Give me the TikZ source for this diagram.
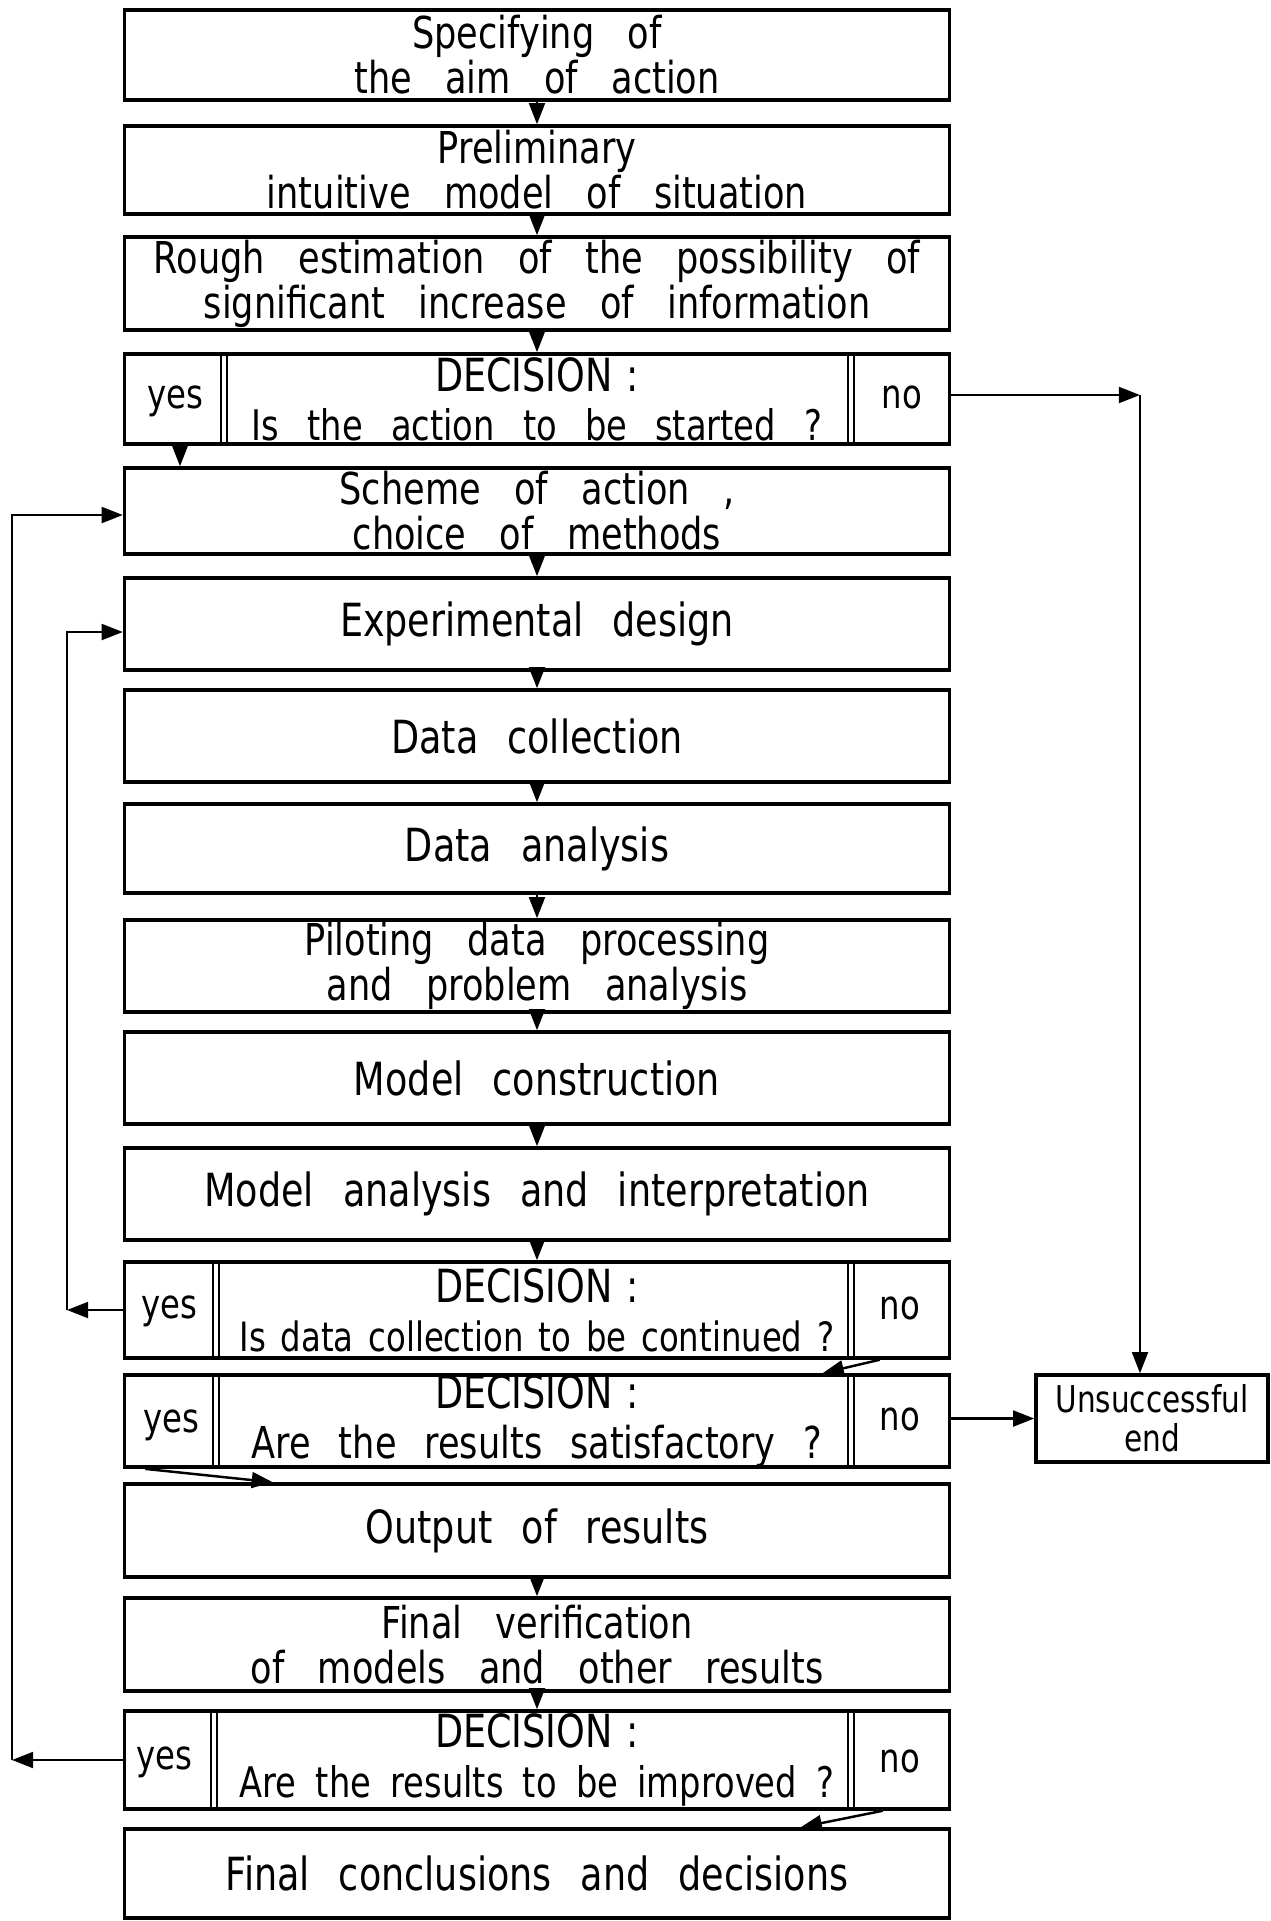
\documentclass[tikz,border=0pt]{standalone}
\usepackage{fontspec}
\setmainfont{DejaVu Sans}[FakeStretch=0.8,WordSpace=2.5]
\usetikzlibrary{arrows.meta}
\newcommand\boxfont{\fontsize{26}{22}\selectfont}
\newcommand\twofont{\fontsize{25}{25.5}\selectfont\lineskiplimit=-40pt\spaceskip=19pt\relax}

\begin{document}
\begin{tikzpicture}[x=0.02cm,y=-0.02cm,
    box/.style={draw,line width=2pt,minimum width=16.5cm,inner sep=0pt,align=center,font=\boxfont},
    twoline/.style={box,font=\twofont},
    lbl/.style={inner sep=0pt,font=\fontsize{23}{22}\selectfont},
    sep/.style={line width=1.4pt},
    arr/.style={line width=1.4pt,-{Triangle[length=12pt,width=9pt]}}]
    \useasboundingbox[fill=white] (0,0) rectangle (1271,1921);
    % main column
    \node[twoline,minimum height=1.8cm] (spec) at (537,55) {Specifying of\\the aim of action};
    \node[twoline,minimum height=1.76cm] (prelim) at (537,170) {Preliminary\\intuitive model of situation};
    \node[twoline,minimum height=1.86cm] (rough) at (537,283.5) {Rough estimation of the possibility of\\significant increase of information};
    \node[box,minimum height=1.8cm] (dec1) at (537,399) {DECISION\hspace{0.3em}:\\[6pt]{\fontsize{24}{22}\selectfont\spaceskip=16pt Is the action to be started ?}};
    \node[twoline,minimum height=1.72cm] (scheme) at (537,511) {Scheme of action ,\\choice of methods};
    \node[box,minimum height=1.84cm] (exp) at (537,624) {Experimental design};
    \node[box,minimum height=1.84cm] (datacoll) at (537,736) {Data collection};
    \node[box,minimum height=1.78cm] (dataanal) at (537,848.5) {Data analysis};
    \node[twoline,minimum height=1.84cm] (pilot) at (537,966) {Piloting data processing\\and problem analysis};
    \node[box,minimum height=1.84cm] (constr) at (537,1078) {Model construction};
    \node[box,minimum height=1.84cm] (interp) at (537,1194) {Model analysis and interpretation};
    \node[box,minimum height=1.92cm] (dec2) at (537,1310) {DECISION\hspace{0.3em}:\\[6pt]{\fontsize{23}{22}\selectfont\spaceskip=8.5pt Is data collection to be continued ?}};
    \node[box,minimum height=1.68cm] (dec3) at (537,1421) {DECISION\hspace{0.3em}:\\[6pt]{\fontsize{25}{22}\selectfont Are the results satisfactory ?}};
    \node[box,minimum height=1.86cm] (output) at (537,1530.5) {Output of results};
    \node[twoline,minimum height=1.86cm] (finver) at (537,1644.5) {Final verification\\of models and other results};
    \node[box,minimum height=1.96cm] (dec4) at (537,1760) {DECISION\hspace{0.3em}:\\[6pt]{\fontsize{24}{22}\selectfont\spaceskip=11pt Are the results to be improved ?}};
    \node[box,minimum height=1.78cm] (final) at (537,1873.5) {Final conclusions and decisions};
    % side box
    \node[box,minimum width=4.64cm,minimum height=1.74cm,font=\fontsize{21}{22}\selectfont] (unsucc) at (1152,1418.5) {Unsuccessful\\end};
    % yes / no cells
    \node[lbl] (yes1) at (175,401) {yes};
    \node[lbl] (no1) at (902,397) {no};
    \node[lbl] (yes2) at (169,1311) {yes};
    \node[lbl] (no2) at (900,1308) {no};
    \node[lbl] (yes3) at (171,1425) {yes};
    \node[lbl] (no3) at (900,1419) {no};
    \node[lbl] (yes4) at (164,1762) {yes};
    \node[lbl] (no4) at (900,1761) {no};
    \foreach \d/\a/\b in {dec1/221/227,dec2/213/219,dec3/213/219,dec4/211/217}{
        \draw[sep] (\a,0 |- \d.north) -- (\a,0 |- \d.south);
        \draw[sep] (\b,0 |- \d.north) -- (\b,0 |- \d.south);
        \draw[sep] (848,0 |- \d.north) -- (848,0 |- \d.south);
        \draw[sep] (854,0 |- \d.north) -- (854,0 |- \d.south);
    }
    % flow downwards
    \draw[arr] (spec) -- (prelim);
    \draw[arr] (prelim) -- (rough);
    \draw[arr] (rough) -- (dec1);
    \draw[arr] (180,0 |- dec1.south) -- (180,0 |- scheme.north);
    \draw[arr] (scheme) -- (exp);
    \draw[arr] (exp) -- (datacoll);
    \draw[arr] (datacoll) -- (dataanal);
    \draw[arr] (dataanal) -- (pilot);
    \draw[arr] (pilot) -- (constr);
    \draw[arr] (constr) -- (interp);
    \draw[arr] (interp) -- (dec2);
    \draw[arr] ([xshift=-1.43cm]dec2.south east) -- ([xshift=-2.57cm]dec3.north east);
    \draw[arr] ([xshift=0.45cm]dec3.south west) -- ([xshift=3cm]output.north west);
    \draw[arr] (output) -- (finver);
    \draw[arr] (finver) -- (dec4);
    \draw[arr] ([xshift=-1.37cm]dec4.south east) -- ([xshift=-3.01cm]final.north east);
    % unsuccessful branch
    \coordinate (turn) at (1140,395);
    \draw[arr] (dec1.east |- turn) -- (turn);
    \draw[arr] (turn) -- (turn |- unsucc.north);
    \draw[arr] (unsucc.west -| dec3.east) -- (unsucc.west);
    % loops back
    \coordinate (back1) at (12,1760);
    \coordinate (back2) at (67,1310);
    \draw[arr] (dec4.west) -- (back1);
    \draw[arr] (back1) |- ([yshift=-0.08cm]scheme.west);
    \draw[arr] (dec2.west) -- (back2);
    \draw[arr] (back2) |- ([yshift=-0.16cm]exp.west);
\end{tikzpicture}
\end{document}
